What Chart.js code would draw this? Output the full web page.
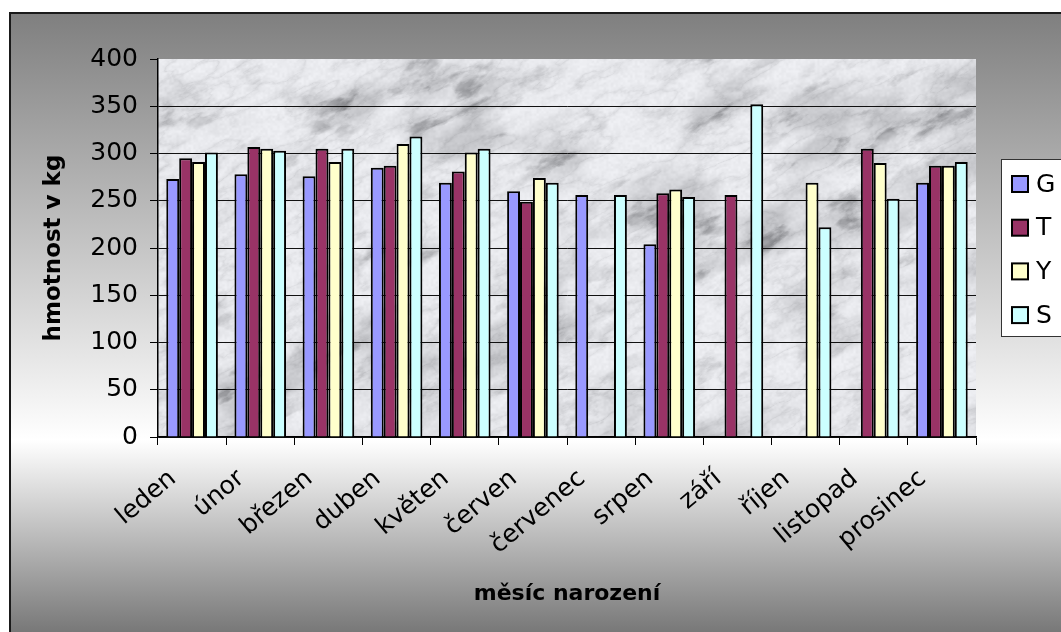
<!DOCTYPE html>
<html>
<head>
<meta charset="utf-8">
<script src="https://cdn.jsdelivr.net/npm/chart.js@4.4.0/dist/chart.umd.min.js"></script>
<style>
  html, body { margin: 0; padding: 0; background: #fff; overflow: hidden; }
  #wrap { width: 1061px; height: 632px; position: relative; }
</style>
</head>
<body>
<div id="wrap"><canvas id="c" width="1061" height="632"></canvas></div>
<script>
// Birth month vs. average weight (kg), four groups
const months = ['leden', 'únor', 'březen', 'duben', 'květen', 'červen',
                'červenec', 'srpen', 'září', 'říjen', 'listopad', 'prosinec'];
const seriesNames = ['G', 'T', 'Y', 'S'];
const valuesG = [273, 278, 276, 285, 269, 260, 256, 204, null, null, null, 269];
const valuesT = [295, 307, 305, 287, 281, 249, null, 258, 256, null, 305, 287];
const valuesY = [291, 305, 291, 310, 301, 274, null, 262, null, 269, 290, 287];
const valuesS = [301, 303, 305, 318, 305, 269, 256, 254, 352, 222, 252, 291];
const yMin = 0, yMax = 400, yStep = 50;
const seriesColors = ['#9999FF', '#993366', '#FFFFCC', '#CCFFFF'];
const axisTitleX = 'měsíc narození';
const axisTitleY = 'hmotnost v kg';

const FONT = '"DejaVu Sans", Verdana, sans-serif';

// ---- procedural marble fill for the plot area ----
function hash2(x, y) {
  let h = Math.imul(x, 374761393) ^ Math.imul(y, 668265263);
  h = Math.imul(h ^ (h >>> 13), 1274126177);
  h ^= h >>> 16;
  return (h >>> 0) / 4294967295;
}
function vnoise(x, y) {
  const xi = Math.floor(x), yi = Math.floor(y);
  const xf = x - xi, yf = y - yi;
  const u = xf * xf * (3 - 2 * xf), v = yf * yf * (3 - 2 * yf);
  const a = hash2(xi, yi), b = hash2(xi + 1, yi), c = hash2(xi, yi + 1), d = hash2(xi + 1, yi + 1);
  return a + (b - a) * u + (c - a) * v + (a - b - c + d) * u * v;
}
function fbm(x, y) {
  let s = 0, amp = 0.5, f = 1;
  for (let o = 0; o < 5; o++) { s += amp * vnoise(x * f, y * f); f *= 2.03; amp *= 0.5; }
  return s;
}
const clamp01 = (v) => Math.min(1, Math.max(0, v));
let marbleCache = null;
function marble(w, h) {
  if (marbleCache && marbleCache.width === w && marbleCache.height === h) return marbleCache;
  const cv = document.createElement('canvas');
  cv.width = w; cv.height = h;
  const cx = cv.getContext('2d');
  const img = cx.createImageData(w, h);
  for (let py = 0; py < h; py++) {
    for (let px = 0; px < w; px++) {
      const s = px * 0.9 - py * 0.44;
      const t = px * 0.44 + py * 0.9;
      const cloud = clamp01((fbm(s / 80, t / 42) - 0.45) / 0.28);
      const smudge = clamp01((fbm(s / 32 + 3.7, t / 15 + 9.1) - 0.58) / 0.16);
      const wv = fbm(s / 40 + 7.3, t / 16 + 3.1);
      const vein = Math.pow(1 - Math.abs(2 * wv - 1), 8);
      const fine = vnoise(px / 2.4, py / 2.4);
      const g = 241 - 34 * Math.pow(cloud, 1.3) - 34 * smudge * (0.45 + cloud)
                - 16 * vein - 9 * fine;
      const i = (py * w + px) * 4;
      img.data[i] = g - 1; img.data[i + 1] = g; img.data[i + 2] = g + 4; img.data[i + 3] = 255;
    }
  }
  cx.putImageData(img, 0, 0);
  marbleCache = cv;
  return cv;
}

const backdrop = {
  id: 'backdrop',
  beforeDraw(chart) {
    const { ctx, width, height, chartArea: a } = chart;
    ctx.save();
    ctx.fillStyle = '#fff';
    ctx.fillRect(0, 0, width, height);
    const g = ctx.createLinearGradient(0, 13, 0, height);
    g.addColorStop(0, '#7f7f7f');
    g.addColorStop((440 - 13) / (height - 13), '#ffffff');
    g.addColorStop(1, '#787878');
    ctx.fillStyle = g;
    ctx.fillRect(10, 13, width - 10, height - 13);
    ctx.strokeStyle = '#1a1a1a';
    ctx.lineWidth = 2;
    ctx.beginPath();
    ctx.moveTo(10, height); ctx.lineTo(10, 13); ctx.lineTo(width, 13);
    ctx.stroke();
    const w = Math.round(a.right - a.left), h = Math.round(a.bottom - a.top);
    ctx.drawImage(marble(w, h), a.left, a.top);
    ctx.restore();
  }
};

const boxLegend = {
  id: 'boxLegend',
  afterDraw(chart) {
    const ctx = chart.ctx;
    ctx.save();
    ctx.fillStyle = '#ffffff';
    ctx.fillRect(1001, 159, 80, 178);
    ctx.strokeStyle = '#333';
    ctx.lineWidth = 1;
    ctx.strokeRect(1001.5, 159.5, 80, 177);
    ctx.font = '25px ' + FONT;
    ctx.textBaseline = 'middle';
    chart.data.datasets.forEach((ds, i) => {
      const y = 184 + i * 43.7;
      ctx.fillStyle = ds.backgroundColor;
      ctx.fillRect(1012, y - 8, 16, 16);
      ctx.lineWidth = 2;
      ctx.strokeStyle = '#000';
      ctx.strokeRect(1012, y - 8, 16, 16);
      ctx.fillStyle = '#000';
      ctx.fillText(ds.label, 1036, y + 1);
    });
    ctx.restore();
  }
};

const seriesValues = [valuesG, valuesT, valuesY, valuesS];

new Chart(document.getElementById('c'), {
  type: 'bar',
  data: {
    labels: months,
    datasets: seriesNames.map((name, i) => ({
      label: name,
      data: seriesValues[i],
      backgroundColor: seriesColors[i],
      borderColor: '#000',
      borderWidth: 2,
      borderSkipped: 'start',
      categoryPercentage: 0.757,
      barPercentage: 1.0
    }))
  },
  options: {
    responsive: false,
    animation: false,
    devicePixelRatio: 1,
    layout: { padding: { top: 59, right: 85, bottom: 0, left: 0 } },
    plugins: { legend: { display: false }, tooltip: { enabled: false } },
    scales: {
      x: {
        grid: { offset: true, drawOnChartArea: false, tickLength: 8, color: '#000', tickColor: '#000', lineWidth: 1 },
        border: { color: '#000', width: 1.5 },
        ticks: {
          autoSkip: false, maxRotation: 40, minRotation: 40,
          color: '#000', font: { family: FONT, size: 25 },
          padding: 19, labelOffset: -19
        },
        title: {
          display: true, text: axisTitleX, color: '#000',
          font: { family: FONT, size: 22, weight: 'bold' },
          padding: { top: 0, bottom: 25 }
        },
        afterFit(scale) { scale.height = 195; }
      },
      y: {
        min: yMin, max: yMax,
        grid: {
          color: (c) => (c.tick && c.tick.value === yMax) ? 'rgba(0,0,0,0)' : '#111',
          tickColor: '#000', tickLength: 8, lineWidth: 1
        },
        border: { color: '#000', width: 1.5 },
        ticks: { stepSize: yStep, color: '#000', font: { family: FONT, size: 25 }, padding: 12 },
        title: {
          display: true, text: axisTitleY, color: '#000',
          font: { family: FONT, size: 23, weight: 'bold' },
          padding: { top: 40, bottom: 0 }
        },
        afterFit(scale) { scale.width = 158; }
      }
    }
  },
  plugins: [backdrop, boxLegend]
});
</script>
</body>
</html>
